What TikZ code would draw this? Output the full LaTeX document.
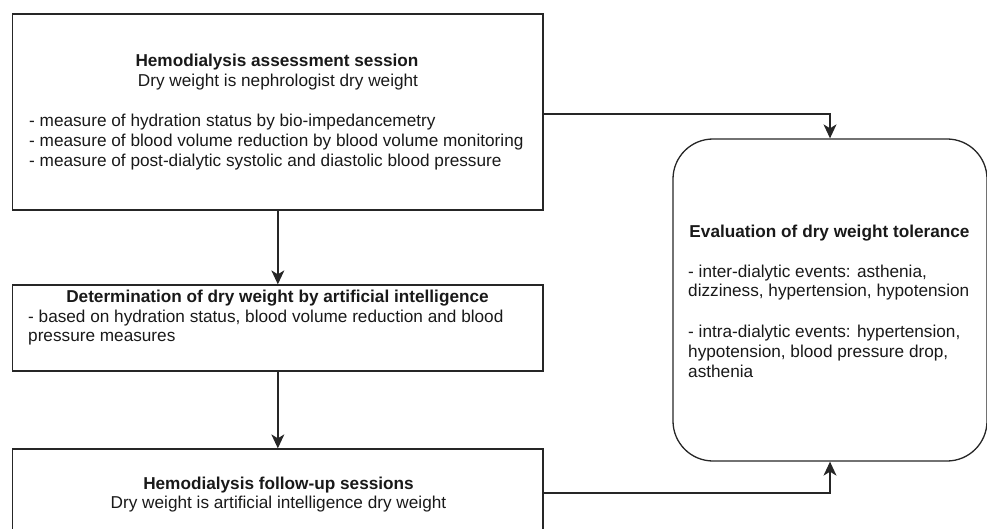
\documentclass[tikz,border=0pt]{standalone}
\usepackage{fontspec}
\setmainfont{Liberation Sans}
\usetikzlibrary{arrows.meta}
\begin{document}
\begin{tikzpicture}[x=1pt,y=-1pt,
  box/.style={draw=black!85,line width=1.3pt,rectangle,inner sep=0pt},
  txt/.style={inner sep=0pt,font=\fontsize{17.2}{20}\selectfont,text=black!90},
  ttl/.style={txt,font=\fontsize{17.2}{20}\selectfont\bfseries},
  conn/.style={draw=black!85,line width=1.3pt,-{Stealth[length=14pt,width=13pt,inset=4pt]}}]
\useasboundingbox (0,0) rectangle (987,529);
\clip (0,0) rectangle (987,529);
% boxes
\node[box,minimum width=530.3pt,minimum height=196pt] (b1) at (277.85,112) {};
\node[box,minimum width=530.3pt,minimum height=86pt] (b2) at (277.85,328) {};
\node[box,minimum width=530.3pt,minimum height=88pt] (b3) at (277.85,493) {};
\node[box,rounded corners=40pt,minimum width=314pt,minimum height=322pt] (ev) at (830,300) {};
% box 1 text
\node[ttl,anchor=base] (t1a) at (277,66.5) {Hemodialysis assessment session};
\node[txt,anchor=base] (t1b) at (278,86.5) {Dry weight is nephrologist dry weight};
\node[txt,anchor=base west] (t1c) at (29,127) {- measure of hydration status by bio-impedancemetry};
\node[txt,anchor=base west] (t1d) at (29,147) {- measure of blood volume reduction by blood volume monitoring};
\node[txt,anchor=base west] (t1e) at (29,167) {- measure of post-dialytic systolic and diastolic blood pressure};
% box 2 text
\node[ttl,anchor=base] (t2a) at (277.5,302.5) {Determination of dry weight by artificial intelligence};
\node[txt,anchor=base west] (t2b) at (28,322) {- based on hydration status, blood volume reduction and blood};
\node[txt,anchor=base west] (t2c) at (28,341.5) {pressure measures};
% box 3 text
\node[ttl,anchor=base] (t3a) at (278.5,489.5) {Hemodialysis follow-up sessions};
\node[txt,anchor=base] (t3b) at (278.5,508.5) {Dry weight is artificial intelligence dry weight};
% evaluation text
\node[ttl,anchor=base] (e1) at (829.5,237) {Evaluation of dry weight tolerance};
\node[txt,anchor=base west] (e2) at (688,277) {- inter-dialytic events: asthenia,};
\node[txt,anchor=base west] (e3) at (688,296.5) {dizziness, hypertension, hypotension};
\node[txt,anchor=base west] (e4) at (688,337.5) {- intra-dialytic events: hypertension,};
\node[txt,anchor=base west] (e5) at (688,357.5) {hypotension, blood pressure drop,};
\node[txt,anchor=base west] (e6) at (688,377.5) {asthenia};
% connectors
\draw[conn] (b1.south) -- (b2.north);
\draw[conn] (b2.south) -- (b3.north);
\draw[conn] ([yshift=-2pt]b1.east) -| (ev.north);
\draw[conn] (b3.east) -| (ev.south);
\end{tikzpicture}
\end{document}
